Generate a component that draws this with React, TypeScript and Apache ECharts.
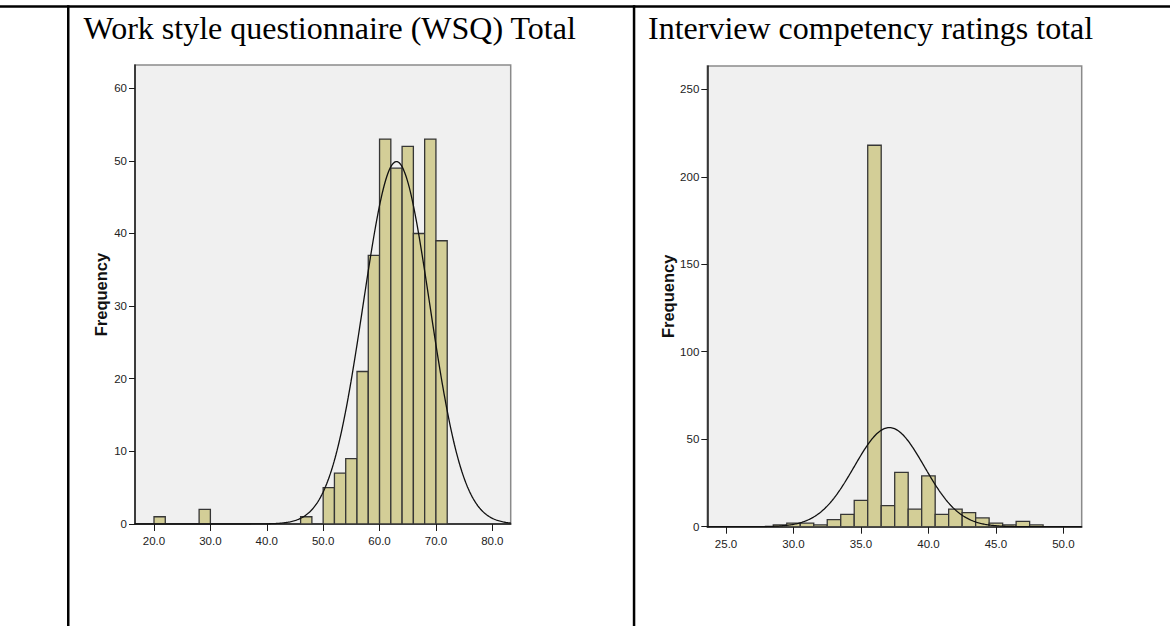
import React, { useEffect, useRef } from "react";
import * as echarts from "echarts";

// ---- Data ----
const wsqTitle = "Work style questionnaire (WSQ) Total";
const icrTitle = "Interview competency ratings total";

const wsqBinStart = [20, 28, 46, 50, 52, 54, 56, 58, 60, 62, 64, 66, 68, 70];
const wsqCounts = [1, 2, 1, 5, 7, 9, 21, 37, 53, 49, 52, 40, 53, 39];
const wsqBinWidth = 2;
const wsqXTicks = [20, 30, 40, 50, 60, 70, 80];
const wsqYTicks = [0, 10, 20, 30, 40, 50, 60];
const wsqMean = 63.0;
const wsqSd = 5.9;

const icrBinCenter = [29, 30, 31, 32, 33, 34, 35, 36, 37, 38, 39, 40, 41, 42, 43, 44, 45, 46, 47, 48];
const icrCounts = [1, 2, 2, 1, 4, 7, 15, 218, 12, 31, 10, 29, 7, 10, 8, 5, 2, 1, 3, 1];
const icrBinWidth = 1;
const icrXTicks = [25, 30, 35, 40, 45, 50];
const icrYTicks = [0, 50, 100, 150, 200, 250];
const icrMean = 37.1;
const icrSd = 2.6;

const wsqRange = [16.63, 83.26];
const icrRange = [23.61, 51.36];

// ---- helpers ----
const total = (a: number[]) => a.reduce((s, v) => s + v, 0);

function normalCurve(mean: number, sd: number, n: number, bw: number, lo: number, hi: number) {
  const pts: number[][] = [];
  const steps = 400;
  for (let i = 0; i <= steps; i++) {
    const x = lo + ((hi - lo) * i) / steps;
    const z = (x - mean) / sd;
    pts.push([x, (n * bw * Math.exp(-0.5 * z * z)) / (sd * Math.sqrt(2 * Math.PI))]);
  }
  return pts;
}

const labelFont = "'Liberation Sans', Arial, sans-serif";
const BAR_FILL = "#D3CE97";
const BAR_STROKE = "#363636";

function histItem(params: any, api: any) {
  const x0 = api.value(0);
  const x1 = api.value(1);
  const c = api.value(2);
  const p0 = api.coord([x0, c]);
  const p1 = api.coord([x1, 0]);
  return {
    type: "rect",
    shape: { x: p0[0], y: p0[1], width: p1[0] - p0[0], height: p1[1] - p0[1] },
    style: { fill: BAR_FILL, stroke: BAR_STROKE, lineWidth: 1.3 },
  };
}

export default function App() {
  const ref = useRef<HTMLDivElement>(null);

  useEffect(() => {
    if (!ref.current) return;
    const chart = echarts.init(ref.current, undefined, { renderer: "svg" });

    const wsqBars = wsqBinStart.map((s, i) => [s, s + wsqBinWidth, wsqCounts[i]]);
    const icrBars = icrBinCenter.map((c, i) => [c - icrBinWidth / 2, c + icrBinWidth / 2, icrCounts[i]]);
    const wsqCurve = normalCurve(wsqMean, wsqSd, total(wsqCounts), wsqBinWidth, wsqRange[0], wsqRange[1]);
    const icrCurve = normalCurve(icrMean, icrSd, total(icrCounts), icrBinWidth, icrRange[0], icrRange[1]);

    const xAxisCommon = (range: number[], ticks: number[]) => ({
      type: "value",
      min: range[0],
      max: range[1],
      splitLine: { show: false },
      axisLine: { show: true, onZero: false, lineStyle: { color: "#1a1a1a", width: 1.5 } },
      axisTick: { show: true, length: 7, customValues: ticks, lineStyle: { color: "#1a1a1a", width: 1 } },
      axisLabel: {
        customValues: ticks,
        formatter: (v: number) => v.toFixed(1),
        fontFamily: labelFont,
        fontSize: 11.5,
        color: "#222",
        margin: 11,
      },
    });
    const yAxisCommon = (max: number, ticks: number[]) => ({
      type: "value",
      min: 0,
      max,
      name: "Frequency",
      nameLocation: "middle",
      nameRotate: 90,
      nameGap: 26,
      nameTextStyle: { fontFamily: "'Liberation Sans', Arial, sans-serif", fontWeight: "bold", fontSize: 16.5, color: "#111" },
      splitLine: { show: false },
      axisLine: { show: true, lineStyle: { color: "#1a1a1a", width: 1.5 } },
      axisTick: { show: true, length: 6, customValues: ticks, lineStyle: { color: "#1a1a1a", width: 1 } },
      axisLabel: {
        customValues: ticks,
        formatter: (v: number) => String(Math.round(v)),
        fontFamily: labelFont,
        fontSize: 11.5,
        color: "#222",
        margin: 8,
      },
    });

    const titleFont = "32px 'Liberation Serif', 'Times New Roman', serif";

    chart.setOption({
      animation: false,
      backgroundColor: "#ffffff",
      grid: [
        { left: 135, top: 65, width: 375.7, height: 459, show: true, backgroundColor: "#F0F0F0", borderColor: "#8a8a8a", borderWidth: 1.5 },
        { left: 707.3, top: 66, width: 374.4, height: 460.7, show: true, backgroundColor: "#F0F0F0", borderColor: "#8a8a8a", borderWidth: 1.5 },
      ],
      xAxis: [
        { ...xAxisCommon(wsqRange, wsqXTicks), gridIndex: 0 },
        { ...xAxisCommon(icrRange, icrXTicks), gridIndex: 1 },
      ],
      yAxis: [
        { ...yAxisCommon(63.2, wsqYTicks), gridIndex: 0 },
        { ...yAxisCommon(263.3, icrYTicks), gridIndex: 1 },
      ],
      series: [
        {
          type: "custom",
          xAxisIndex: 0,
          yAxisIndex: 0,
          renderItem: histItem,
          encode: { x: [0, 1], y: 2 },
          data: wsqBars,
          clip: true,
          z: 2,
        },
        {
          type: "line",
          xAxisIndex: 0,
          yAxisIndex: 0,
          data: wsqCurve,
          showSymbol: false,
          symbol: "none",
          lineStyle: { color: "#111", width: 1.3 },
          z: 3,
          silent: true,
        },
        {
          type: "custom",
          xAxisIndex: 1,
          yAxisIndex: 1,
          renderItem: histItem,
          encode: { x: [0, 1], y: 2 },
          data: icrBars,
          clip: true,
          z: 2,
        },
        {
          type: "line",
          xAxisIndex: 1,
          yAxisIndex: 1,
          data: icrCurve,
          showSymbol: false,
          symbol: "none",
          lineStyle: { color: "#111", width: 1.3 },
          z: 3,
          silent: true,
        },
      ],
      graphic: [
        { type: "rect", shape: { x: 0, y: 5.2, width: 1170, height: 2.6 }, style: { fill: "#000" }, silent: true },
        { type: "rect", shape: { x: 67, y: 5.2, width: 2.5, height: 621 }, style: { fill: "#000" }, silent: true },
        { type: "rect", shape: { x: 632.8, y: 5.2, width: 2.5, height: 621 }, style: { fill: "#000" }, silent: true },
        {
          type: "text",
          x: 83.5,
          y: 28,
          style: { text: wsqTitle, font: titleFont, fill: "#000", align: "left", verticalAlign: "middle" },
        },
        {
          type: "text",
          x: 648,
          y: 28,
          style: { text: icrTitle, font: titleFont, fill: "#000", align: "left", verticalAlign: "middle" },
        },
      ],
    });

    return () => chart.dispose();
  }, []);

  return <div ref={ref} style={{ position: "fixed", left: 0, top: 0, width: 1170, height: 626 }} />;
}
